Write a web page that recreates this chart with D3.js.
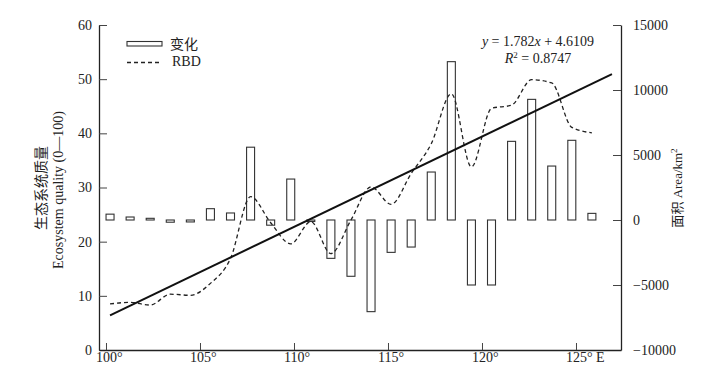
<!DOCTYPE html>
<html>
<head>
<meta charset="utf-8">
<script src="https://cdn.jsdelivr.net/npm/d3@7"></script>
<style>
  body { margin: 0; background: #fff; }
  svg { display: block; }
  text { font-family: "Liberation Serif", "Noto Sans CJK SC", serif; fill: #222; }
</style>
</head>
<body>
<svg id="chart" width="712" height="392"></svg>
<script>
// ---- data ----
const positions = [1,2,3,4,5,6,7,8,9,10,11,12,13,14,15,16,17,18,19,20,21,22,23,24,25];
const areaChange = [450, 230, 130, -170, -150, 870, 540, 5600, -400, 3150, -80, -2950, -4330, -7050, -2490, -2080, 3690, 12180, -5000, -5000, 6050, 9280, 4150, 6130, 510];
const rbd = [8.5, 8.8, 8.3, 10.3, 10.1, 12.3, 16.9, 28.3, 23.5, 19.6, 23.7, 17.8, 24.0, 30.1, 26.9, 32.6, 38.1, 47.3, 33.8, 44.6, 45.2, 49.9, 49.3, 41.1, 40.1];
const fitSlope = 1.782, fitIntercept = 4.6109;
const fitRange = [1, 26];
const lonTicks = [100, 105, 110, 115, 120, 125];
const lonLabels = ["100°", "105°", "110°", "115°", "120°", "125° E"];
const leftTicks = [0, 10, 20, 30, 40, 50, 60];
const rightTicks = [-10000, -5000, 0, 5000, 10000, 15000];
const rightLabels = ["−10000", "−5000", "0", "5000", "10000", "15000"];

// ---- layout ----
const L = 99, R = 621, T = 25, B = 350;
const svg = d3.select("#chart");
svg.append("rect").attr("width", 712).attr("height", 392).attr("fill", "#fff");

const x = d3.scaleLinear().domain([0.45, 26.45]).range([L, R]);
const lon = d3.scaleLinear().domain([99.628, 127.394]).range([L, R]);
const yL = d3.scaleLinear().domain([0, 60]).range([B, T]);
const yR = d3.scaleLinear().domain([-10000, 15000]).range([B, T]);

// bars
const bw = 8;
svg.append("g").selectAll("rect").data(positions).join("rect")
  .attr("x", (d) => x(d) - bw / 2)
  .attr("y", (d, i) => Math.min(yR(areaChange[i]), yR(0)))
  .attr("width", bw)
  .attr("height", (d, i) => Math.max(Math.abs(yR(areaChange[i]) - yR(0)), 1.5))
  .attr("fill", "#fff")
  .attr("stroke", "#333")
  .attr("stroke-width", 1.1);

// RBD dashed line
const line = d3.line().x((d) => x(d[0])).y((d) => yL(d[1])).curve(d3.curveMonotoneX);
svg.append("path")
  .datum(positions.map((p, i) => [p, rbd[i]]))
  .attr("d", line)
  .attr("fill", "none")
  .attr("stroke", "#222")
  .attr("stroke-width", 1.3)
  .attr("stroke-dasharray", "4,3");

// regression line
svg.append("path")
  .datum(fitRange.map((v) => [v, fitSlope * v + fitIntercept]))
  .attr("d", d3.line().x((d) => x(d[0])).y((d) => yL(d[1])))
  .attr("fill", "none")
  .attr("stroke", "#111")
  .attr("stroke-width", 2);

// axes
function styleAxis(g) {
  g.selectAll("path.domain").attr("stroke", "#222").attr("stroke-width", 1.3);
  g.selectAll(".tick line").attr("stroke", "#444").attr("stroke-width", 1);
  g.selectAll("text").attr("font-size", 14).attr("font-family", "Liberation Serif, serif").attr("fill", "#222");
}
const gl = svg.append("g").attr("transform", `translate(${L},0)`)
  .call(d3.axisLeft(yL).tickValues(leftTicks).tickSizeInner(-8).tickSizeOuter(0).tickPadding(7));
styleAxis(gl);

const gr = svg.append("g").attr("transform", `translate(${R},0)`)
  .call(d3.axisRight(yR).tickValues(rightTicks).tickFormat((d, i) => rightLabels[i]).tickSizeInner(-8).tickSizeOuter(0).tickPadding(12));
styleAxis(gr);

const gb = svg.append("g").attr("transform", `translate(0,${B})`)
  .call(d3.axisBottom(lon).tickValues(lonTicks).tickFormat((d, i) => lonLabels[i]).tickSizeInner(-7).tickSizeOuter(0).tickPadding(2));
styleAxis(gb);
gb.selectAll(".tick text").attr("text-anchor", "start").attr("dx", -10.5);

// axis titles
svg.append("text").attr("transform", "translate(46,188) rotate(-90)")
  .attr("text-anchor", "middle").attr("font-size", 14)
  .attr("font-family", "Noto Sans CJK SC, sans-serif")
  .text("生态系统质量");
svg.append("text").attr("transform", "translate(63,190) rotate(-90)")
  .attr("text-anchor", "middle").attr("font-size", 14)
  .text("Ecosystem quality (0—100)");

const rt = svg.append("text").attr("transform", "translate(682,188) rotate(-90)")
  .attr("text-anchor", "middle").attr("font-size", 13);
rt.append("tspan").attr("font-family", "Noto Sans CJK SC, sans-serif").text("面积");
rt.append("tspan").text(" Area/km");
rt.append("tspan").attr("font-size", 9).attr("dy", -5).text("2");

// legend
svg.append("rect").attr("x", 127).attr("y", 41.5).attr("width", 35).attr("height", 4.5)
  .attr("fill", "#fff").attr("stroke", "#333").attr("stroke-width", 1.1);
svg.append("text").attr("x", 170).attr("y", 48.5).attr("font-size", 14)
  .attr("font-family", "Noto Sans CJK SC, sans-serif").text("变化");
svg.append("line").attr("x1", 127).attr("x2", 162).attr("y1", 62.5).attr("y2", 62.5)
  .attr("stroke", "#222").attr("stroke-width", 1.3).attr("stroke-dasharray", "4,3");
svg.append("text").attr("x", 172).attr("y", 66).attr("font-size", 14).text("RBD");

// equation
const eq1 = svg.append("text").attr("x", 538).attr("y", 46).attr("text-anchor", "middle").attr("font-size", 14);
eq1.append("tspan").attr("font-style", "italic").text("y");
eq1.append("tspan").text(" = " + fitSlope + "");
eq1.append("tspan").attr("font-style", "italic").text("x");
eq1.append("tspan").text(" + " + fitIntercept);
const eq2 = svg.append("text").attr("x", 538).attr("y", 63).attr("text-anchor", "middle").attr("font-size", 14);
eq2.append("tspan").attr("font-style", "italic").text("R");
eq2.append("tspan").attr("font-size", 9).attr("dy", -5).text("2");
eq2.append("tspan").attr("dy", 5).text(" = 0.8747");
</script>
</body>
</html>
